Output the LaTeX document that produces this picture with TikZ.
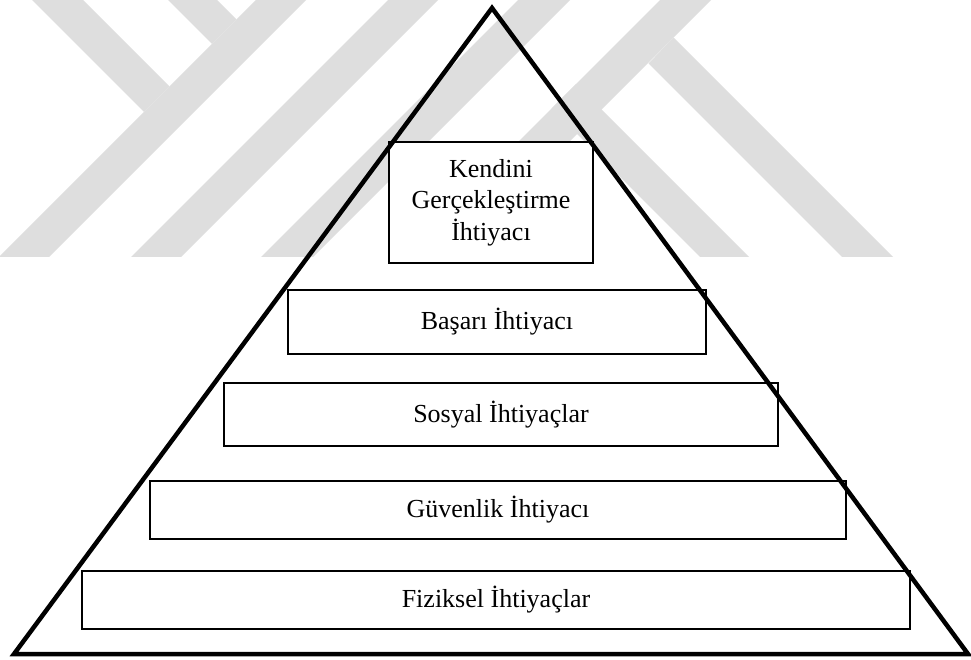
\documentclass[tikz,border=0pt]{standalone}
\usepackage{fontspec}
\setmainfont{Liberation Serif}
\usepackage{tikz}
\usetikzlibrary{calc}
\definecolor{filigran}{RGB}{222,222,222}

\begin{document}
\begin{tikzpicture}[x=1pt,y=-1pt,node distance=90pt,
  katman/.style={draw,fill=white,line width=1.2pt,inner sep=0pt,align=center,
    font=\fontsize{26}{31.5}\selectfont}]

  \useasboundingbox (0,0) rectangle (971,660);

  % filigran
  \fill[filigran] (32,0) -- (83,0) -- (169.5,86.5) -- (144,112) -- cycle;
  \fill[filigran] (168,0) -- (217,0) -- (236.5,19.5) -- (212,44) -- cycle;
  \fill[filigran] (256,0) -- (306,0) -- (49,257) -- (-1,257) -- cycle;
  \fill[filigran] (388,0) -- (438,0) -- (181,257) -- (131,257) -- cycle;
  \fill[filigran] (518,0) -- (570,0) -- (313,257) -- (261,257) -- cycle;
  \fill[filigran] (660,0) -- (711,0) -- (454,257) -- (403,257) -- cycle;
  \fill[filigran] (673.5,37.5) -- (893,257) -- (842,257) -- (648.5,63.5) -- cycle;
  \fill[filigran] (576,84) -- (749,257) -- (700,257) -- (551.5,108.5) -- cycle;

  \node[katman,minimum width=204pt,minimum height=121pt] (kendini) at (491,202.5) {Kendini\\Gerçekleştirme\\İhtiyacı};
  \node[katman,minimum width=418pt,minimum height=64pt,node distance=119.5pt,xshift=6pt] (basari) [below of=kendini] {Başarı İhtiyacı};
  \node[katman,minimum width=554pt,minimum height=63pt,node distance=92.5pt,xshift=4pt] (sosyal) [below of=basari] {Sosyal İhtiyaçlar};
  \node[katman,minimum width=696pt,minimum height=58pt,node distance=95.5pt,xshift=-3pt] (guvenlik) [below of=sosyal] {Güvenlik İhtiyacı};
  \node[katman,minimum width=828pt,minimum height=58pt,xshift=-2pt] (fiziksel) [below of=guvenlik] {Fiziksel İhtiyaçlar};

  \coordinate (tepe) at (492,8);
  \coordinate (solalt) at (14,654);
  \coordinate (sagalt) at (968,654);
  \draw[line width=4.5pt,black] (tepe) -- (sagalt) -- (solalt) -- cycle;
\end{tikzpicture}
\end{document}
